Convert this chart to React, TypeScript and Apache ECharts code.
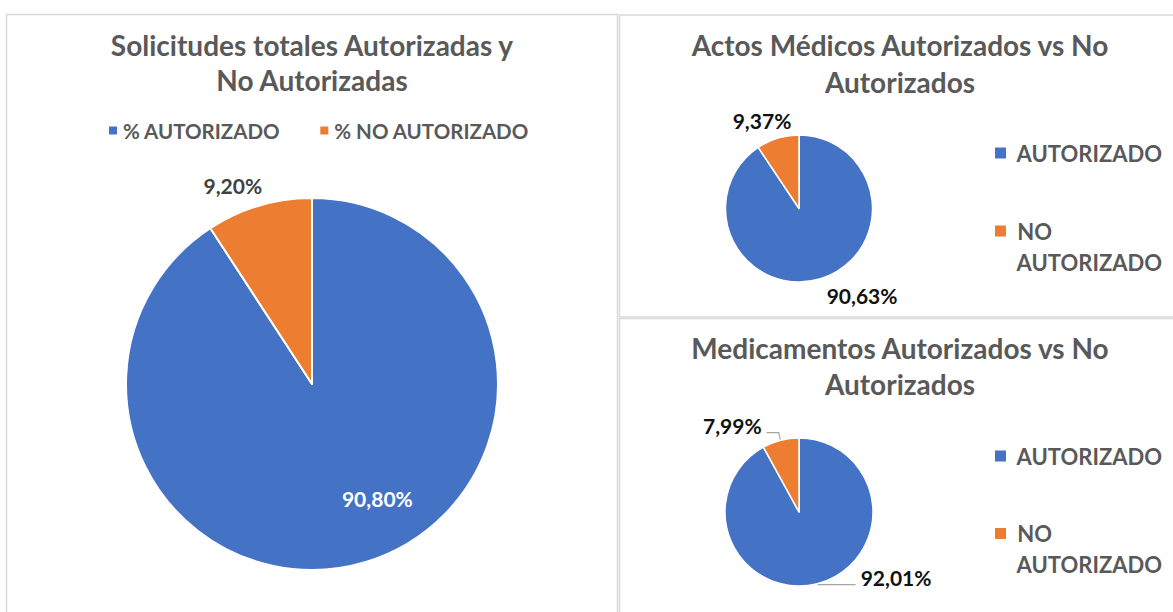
import React, { useEffect, useRef } from "react";
import * as echarts from "echarts";

const totalNames = ["% AUTORIZADO", "% NO AUTORIZADO"];
const totalValues = [90.8, 9.2];
const names = ["AUTORIZADO", "NO AUTORIZADO"];
const actosValues = [90.63, 9.37];
const medValues = [92.01, 7.99];
const colors = ["#4472C4", "#ED7D31"];
const titles = [
  "Solicitudes totales Autorizadas y\nNo Autorizadas",
  "Actos Médicos Autorizados vs No\nAutorizados",
  "Medicamentos Autorizados vs No\nAutorizados",
];

const FONT = "Lato";
const fmt = (p: any) => p.value.toFixed(2).replace(".", ",") + "%";

export default function App() {
  const ref = useRef<HTMLDivElement>(null);
  useEffect(() => {
    const chart = echarts.init(ref.current!, null, { renderer: "svg" });
    const titleStyle = { fontFamily: FONT, fontWeight: "bold", color: "#595959", fontSize: 28 };
    const legendText = { fontFamily: FONT, fontWeight: "bold", fontSize: 22, color: "#595959", lineHeight: 31 };
    const oneLegend = (top: number, name: string) => ({
      orient: "vertical",
      left: 993,
      top,
      padding: 0,
      icon: "rect",
      itemWidth: 13,
      itemHeight: 13,
      textStyle: legendText,
      data: [name],
      formatter: (n: string) => (n === "NO AUTORIZADO" ? "\n NO\n AUTORIZADO" : " " + n),
    });
    const labelBase = {
      show: true,
      position: "outside",
      formatter: fmt,
      fontFamily: FONT,
      fontWeight: "bold",
      fontSize: 21,
      color: "#111",
    };
    chart.setOption({
      animation: false,
      backgroundColor: "#fff",
      title: [
        { text: titles[0], left: 312, top: 27.5, padding: 0, textAlign: "center", textStyle: { ...titleStyle, lineHeight: 35 } },
        { text: titles[1], left: 900, top: 26, padding: 0, textAlign: "center", textStyle: { ...titleStyle, lineHeight: 37 } },
        { text: titles[2], left: 900, top: 330, padding: 0, textAlign: "center", textStyle: { ...titleStyle, lineHeight: 36 } },
      ],
      legend: [
        {
          left: 102,
          top: 115,
          icon: "rect",
          itemWidth: 10,
          itemHeight: 10,
          itemGap: 38,
          textStyle: { fontFamily: FONT, fontWeight: "bold", fontSize: 20.5, color: "#595959" },
          data: totalNames,
        },
        oneLegend(137.5, names[0]),
        oneLegend(184.5, names[1]),
        oneLegend(440.5, names[0]),
        oneLegend(487, names[1]),
      ],
      graphic: [
        { type: "rect", shape: { x: 6.5, y: 14.5, width: 611, height: 640 }, style: { fill: "none", stroke: "#D9D9D9", lineWidth: 1.5 }, silent: true },
        { type: "rect", shape: { x: 619.5, y: 15, width: 600, height: 302 }, style: { fill: "none", stroke: "#D9D9D9", lineWidth: 1.5 }, silent: true },
        { type: "rect", shape: { x: 619.5, y: 318.5, width: 600, height: 340 }, style: { fill: "none", stroke: "#D9D9D9", lineWidth: 1.5 }, silent: true },
      ],
      series: [
        {
          type: "pie",
          center: [312, 384],
          radius: 186,
          startAngle: 90,
          clockwise: true,
          itemStyle: { borderColor: "#fff", borderWidth: 2 },
          label: { ...labelBase, color: "#404040" },
          labelLine: { show: false, length: 10, length2: 4 },
          labelLayout: (p: any) => (p.dataIndex === 0 ? { dx: 38, dy: 22 } : { dx: 15, dy: -11 }),
          data: totalNames.map((n, i) =>
            i === 0
              ? { name: n, value: totalValues[i], itemStyle: { color: colors[i] }, label: { position: "inside", color: "#fff" } }
              : { name: n, value: totalValues[i], itemStyle: { color: colors[i] } }
          ),
        },
        {
          type: "pie",
          center: [799, 208.5],
          radius: 73.5,
          startAngle: 90,
          clockwise: true,
          itemStyle: { borderColor: "#fff", borderWidth: 1.5 },
          label: labelBase,
          labelLine: { show: false, length: 8, length2: 12 },
          labelLayout: (p: any) => (p.dataIndex === 0 ? { dx: -13, dy: 9 } : { dx: 33, dy: -10 }),
          data: names.map((n, i) => ({ name: n, value: actosValues[i], itemStyle: { color: colors[i] } })),
        },
        {
          type: "pie",
          center: [799, 512],
          radius: 74,
          startAngle: 90,
          clockwise: true,
          itemStyle: { borderColor: "#fff", borderWidth: 1.5 },
          label: labelBase,
          labelLine: { show: true, length: 8, length2: 12, lineStyle: { color: "#A6A6A6", width: 1.2 } },
          labelLayout: () => ({ dy: -7 }),
          data: names.map((n, i) => ({
            name: n,
            value: medValues[i],
            itemStyle: { color: colors[i] },
            labelLine: i === 0 ? { length: 1, length2: 38 } : { length: 8, length2: 12 },
          })),
        },
      ],
    });
    return () => chart.dispose();
  }, []);
  return <div ref={ref} style={{ position: "absolute", left: 0, top: 0, width: 1173, height: 612 }} />;
}
